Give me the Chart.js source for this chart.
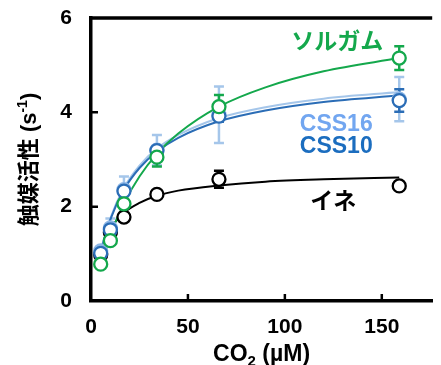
<!DOCTYPE html>
<html>
<head>
<meta charset="utf-8">
<script src="https://cdn.jsdelivr.net/npm/chart.js@4/dist/chart.umd.min.js"></script>
<style>
    html, body { margin: 0; padding: 0; background: #fff; }
</style>
</head>
<body>
<canvas id="kcatChart" width="441" height="365"></canvas>
<script>
// measured CO2 concentrations (uM)
const co2 = [5, 10, 17, 34, 66, 159];

// mean catalytic activity (s-1) at each concentration
const sorghum = [0.78, 1.28, 2.06, 3.05, 4.12, 5.15];
const css16 = [1.06, 1.55, 2.36, 3.20, 3.95, 4.28];
const css10 = [1.01, 1.51, 2.33, 3.19, 3.92, 4.25];
const rice = [0.98, 1.45, 1.78, 2.26, 2.58, 2.44];

// error bars (+/-)
const sorghumErr = [0.05, 0.08, 0.10, 0.20, 0.25, 0.25];
const css16Err = [0.08, 0.20, 0.28, 0.32, 0.60, 0.47];
const css10Err = [0.05, 0.08, 0.10, 0.10, 0.12, 0.24];
const riceErr = [0.04, 0.04, 0.05, 0.07, 0.18, 0.05];

// fitted curves
const fitX = [5, 10, 17, 25, 34, 45, 66, 90, 120, 159];
const sorghumFit = [0.80, 1.41, 2.07, 2.64, 3.12, 3.55, 4.12, 4.53, 4.87, 5.15];
const css16Fit = [1.08, 1.76, 2.40, 2.87, 3.23, 3.52, 3.88, 4.11, 4.29, 4.43];
const css10Fit = [1.05, 1.73, 2.36, 2.82, 3.17, 3.46, 3.81, 4.04, 4.22, 4.36];
const riceFit = [1.06, 1.53, 1.87, 2.08, 2.23, 2.34, 2.45, 2.53, 2.58, 2.62];

const xTicks = [0, 50, 100, 150];
const yTicks = [0, 2, 4, 6];

const GREEN = '#14a84c';
const BLUE = '#2b6db6';
const LIGHT = '#a5c6ea';
const BLACK = '#000000';
const FONT = "'Liberation Sans', Arial, 'Noto Sans CJK JP', sans-serif";

function pairs(xs, ys) {
    return xs.map((x, i) => ({ x: x, y: ys[i] }));
}

function pointSet(label, vals, color, order) {
    return {
        label: label,
        data: pairs(co2, vals),
        showLine: false,
        pointRadius: 6.5,
        pointBorderWidth: 2.3,
        pointBorderColor: color,
        pointBackgroundColor: '#ffffff',
        order: order
    };
}

function curveSet(label, vals, color, order) {
    return {
        label: label,
        data: pairs(fitX, vals),
        showLine: true,
        borderColor: color,
        borderWidth: 2,
        pointRadius: 0,
        cubicInterpolationMode: 'monotone',
        fill: false,
        order: order
    };
}

const errorSets = [
    { vals: rice, err: riceErr, color: BLACK },
    { vals: css16, err: css16Err, color: LIGHT },
    { vals: css10, err: css10Err, color: BLUE },
    { vals: sorghum, err: sorghumErr, color: GREEN }
];

const seriesLabels = [
    { text: 'ソルガム', x: 127, y: 5.47, color: GREEN },
    { text: 'CSS16', x: 126.5, y: 3.74, color: '#72a6f0' },
    { text: 'CSS10', x: 126.5, y: 3.27, color: '#1b6dbf' },
    { text: 'イネ', x: 125, y: 2.09, color: BLACK }
];

const errorBars = {
    id: 'errorBars',
    beforeDatasetsDraw(chart) {
        const { ctx, scales: { x, y } } = chart;
        ctx.save();
        ctx.lineWidth = 2.5;
        errorSets.forEach(s => {
            ctx.strokeStyle = s.color;
            co2.forEach((c, i) => {
                const px = x.getPixelForValue(c);
                const top = y.getPixelForValue(s.vals[i] + s.err[i]);
                const bot = y.getPixelForValue(s.vals[i] - s.err[i]);
                ctx.beginPath();
                ctx.moveTo(px, top);
                ctx.lineTo(px, bot);
                ctx.moveTo(px - 5, top);
                ctx.lineTo(px + 5, top);
                ctx.moveTo(px - 5, bot);
                ctx.lineTo(px + 5, bot);
                ctx.stroke();
            });
        });
        ctx.restore();
    }
};

const frame = {
    id: 'frame',
    afterDraw(chart) {
        const { ctx, chartArea: a, scales: { x, y } } = chart;
        ctx.save();
        ctx.strokeStyle = '#000';
        ctx.lineWidth = 3.5;
        ctx.beginPath();
        ctx.moveTo(a.left - 1.75, a.top);
        ctx.lineTo(a.right, a.top);
        ctx.stroke();

        // inward tick marks
        ctx.lineWidth = 2.5;
        ctx.beginPath();
        xTicks.slice(1).forEach(v => {
            const px = x.getPixelForValue(v);
            ctx.moveTo(px, a.bottom);
            ctx.lineTo(px, a.bottom - 7);
        });
        yTicks.slice(1, -1).forEach(v => {
            const py = y.getPixelForValue(v);
            ctx.moveTo(a.left, py);
            ctx.lineTo(a.left + 7, py);
        });
        ctx.stroke();

        // series names
        ctx.textAlign = 'center';
        ctx.textBaseline = 'middle';
        seriesLabels.forEach(l => {
            ctx.fillStyle = l.color;
            ctx.font = "bold 23px " + FONT;
            ctx.fillText(l.text, x.getPixelForValue(l.x), y.getPixelForValue(l.y));
        });

        // x axis title with subscript
        ctx.fillStyle = '#000';
        ctx.textAlign = 'left';
        ctx.textBaseline = 'alphabetic';
        const big = "bold 23px " + FONT;
        const small = "bold 15px " + FONT;
        const partsX = [['CO', big, 0], ['2', small, 5], [' (µM)', big, 0]];
        let total = 0;
        partsX.forEach(p => { ctx.font = p[1]; total += ctx.measureText(p[0]).width; });
        let cx = (a.left + a.right) / 2 - total / 2;
        partsX.forEach(p => {
            ctx.font = p[1];
            ctx.fillText(p[0], cx, 361 + p[2]);
            cx += ctx.measureText(p[0]).width;
        });

        // y axis title with superscript
        ctx.translate(36, (a.top + a.bottom) / 2);
        ctx.rotate(-Math.PI / 2);
        const yBig = "bold 22px " + FONT;
        const ySmall = "bold 14px " + FONT;
        const partsY = [['触媒活性 (s', yBig, 0], ['-1', ySmall, -9], [')', yBig, 0]];
        total = 0;
        partsY.forEach(p => { ctx.font = p[1]; total += ctx.measureText(p[0]).width; });
        cx = -total / 2;
        partsY.forEach(p => {
            ctx.font = p[1];
            ctx.fillText(p[0], cx, p[2]);
            cx += ctx.measureText(p[0]).width;
        });
        ctx.restore();
    }
};

const ctx = document.getElementById('kcatChart').getContext('2d');
const kcatChart = new Chart(ctx, {
    type: 'scatter',
    data: {
        datasets: [
            pointSet('ソルガム', sorghum, GREEN, 1),
            pointSet('CSS10', css10, BLUE, 2),
            pointSet('CSS16', css16, '#8cb6e6', 3),
            pointSet('イネ', rice, BLACK, 4),
            curveSet('ソルガム fit', sorghumFit, GREEN, 5),
            curveSet('CSS10 fit', css10Fit, BLUE, 6),
            curveSet('CSS16 fit', css16Fit, LIGHT, 7),
            curveSet('イネ fit', riceFit, BLACK, 8)
        ]
    },
    options: {
        responsive: false,
        animation: false,
        devicePixelRatio: 1,
        layout: {
            padding: { top: 18, left: 0, right: 0, bottom: 0 }
        },
        plugins: {
            legend: { display: false },
            tooltip: { enabled: false }
        },
        scales: {
            x: {
                type: 'linear',
                min: 0,
                max: 176,
                afterFit: s => { s.height = 64; s.paddingLeft = 0; s.paddingRight = 0; },
                afterBuildTicks: s => { s.ticks = xTicks.map(v => ({ value: v })); },
                ticks: {
                    color: '#000',
                    padding: 6,
                    font: { family: FONT, size: 21, weight: 'bold' }
                },
                grid: { display: false },
                border: { display: true, color: '#000', width: 3.5 }
            },
            y: {
                min: 0,
                max: 6,
                afterFit: s => { s.width = 91; s.paddingTop = 0; s.paddingBottom = 0; },
                afterBuildTicks: s => { s.ticks = yTicks.map(v => ({ value: v })); },
                ticks: {
                    color: '#000',
                    padding: 11,
                    font: { family: FONT, size: 21, weight: 'bold' }
                },
                grid: { display: false },
                border: { display: true, color: '#000', width: 3.5 }
            }
        }
    },
    plugins: [errorBars, frame]
});
</script>
</body>
</html>
